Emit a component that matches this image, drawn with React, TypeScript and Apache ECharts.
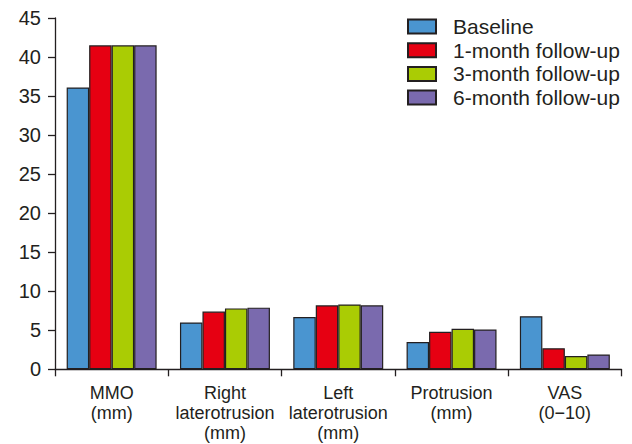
import React, { useEffect, useRef } from "react";
import * as echarts from "echarts";

const categories = [
  "MMO\n(mm)",
  "Right\nlaterotrusion\n(mm)",
  "Left\nlaterotrusion\n(mm)",
  "Protrusion\n(mm)",
  "VAS\n(0\u221210)",
];
const seriesNames = ["Baseline", "1-month follow-up", "3-month follow-up", "6-month follow-up"];
const baseline = [36.1, 6.0, 6.7, 3.5, 6.8];
const month1 = [41.5, 7.4, 8.2, 4.8, 2.7];
const month3 = [41.5, 7.8, 8.3, 5.2, 1.7];
const month6 = [41.5, 7.9, 8.2, 5.1, 1.9];
const colors = ["#4a95d0", "#e60012", "#aacc04", "#7a6aae"];
const yTicks = { min: 0, max: 45, interval: 5 };

const FONT = "Liberation Sans";
const TEXT = "#231f20";

export default function App() {
  const ref = useRef<HTMLDivElement>(null);
  useEffect(() => {
    if (!ref.current) return;
    const chart = echarts.init(ref.current, null, { renderer: "svg" });
    const data = [baseline, month1, month3, month6];
    chart.setOption({
      animation: false,
      textStyle: { fontFamily: FONT, color: TEXT },
      grid: { left: 55, right: 10.5, top: 18, bottom: 74.7 },
      legend: {
        orient: "vertical",
        left: 402,
        top: 11,
        icon: "rect",
        itemWidth: 28,
        itemHeight: 14,
        itemGap: 2.7,
        textStyle: { fontFamily: FONT, fontSize: 21, color: TEXT, lineHeight: 20, padding: [0, 0, 0, 12] },
        data: seriesNames,
      },
      xAxis: {
        type: "category",
        data: categories,
        axisLine: { lineStyle: { color: TEXT, width: 1.3 } },
        axisTick: { show: true, length: 7, lineStyle: { color: TEXT, width: 1.3 } },
        axisLabel: {
          interval: 0,
          fontFamily: FONT,
          fontSize: 18,
          lineHeight: 20,
          color: TEXT,
          margin: 14,
        },
      },
      yAxis: {
        type: "value",
        min: yTicks.min,
        max: yTicks.max,
        interval: yTicks.interval,
        splitLine: { show: false },
        axisLine: { show: true, lineStyle: { color: TEXT, width: 1.3 } },
        axisTick: { show: true, length: 7, lineStyle: { color: TEXT, width: 1.3 } },
        axisLabel: { fontFamily: FONT, fontSize: 20, color: TEXT, margin: 14 },
      },
      series: seriesNames.map((name, i) => ({
        name,
        type: "bar",
        data: data[i],
        barGap: "0%",
        barCategoryGap: "20.6%",
        itemStyle: { color: colors[i], borderColor: TEXT, borderWidth: 1.2 },
      })),
    });
    return () => chart.dispose();
  }, []);
  return <div ref={ref} style={{ width: 632, height: 444, position: "absolute", left: 0, top: 0 }} />;
}
